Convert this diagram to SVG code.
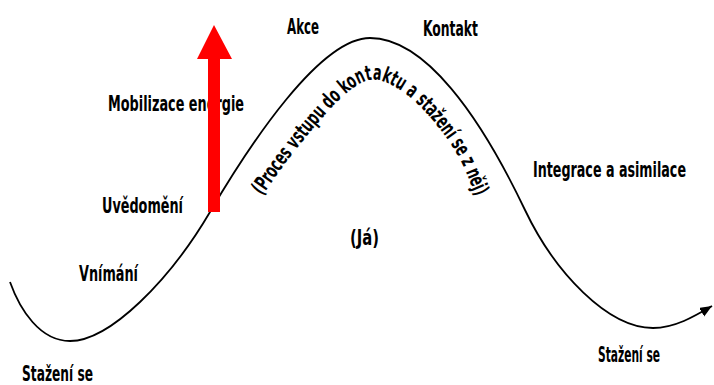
<svg xmlns="http://www.w3.org/2000/svg" width="714" height="385" viewBox="0 0 714 385">
  <style>
    .lbl { font-family: "Liberation Sans Narrow", "DejaVu Sans Condensed", "Liberation Sans", sans-serif; font-weight: bold; font-size: 21px; fill: #000; }
    .curve { fill: none; stroke: #000; stroke-width: 1.8; }
    .arc { font-family: "Liberation Sans Narrow", "DejaVu Sans Condensed", "Liberation Sans", sans-serif; font-weight: bold; font-size: 21px; fill: #000; }
  </style>
  <defs>
    <marker id="ah" markerUnits="userSpaceOnUse" markerWidth="14" markerHeight="12" refX="12" refY="5" orient="auto">
      <path d="M0,0 L12,5 L0,10 Z" fill="#000"/>
    </marker>
    <path id="arcPath" d="M262,196 C272.7,181.3 281.3,167.8 294,152 C306.7,136.2 325.3,113 338,101 C350.7,89 359.8,81.8 370,80 C380.2,78.2 390.2,84 400,90 C409.8,96 419.5,105.3 429,116 C438.5,126.7 449.2,140.7 457,154 C464.8,167.3 469.7,182 476,196"/>
  </defs>
  <rect width="714" height="385" fill="#fff"/>

  <g id="connectors">
    <path class="curve" marker-end="url(#ah)" d="M10,282 C20,310 40,341 70,341 C110,341 170,280 210,212 C250,144 320,38 370,38 C425,38 480,115.5 525,210 C555,273 608,328 653,328 C675,328 695,316 712,306"/>
  </g>

  <g id="label-akce"><text class="lbl" x="287" y="34" textLength="32" lengthAdjust="spacingAndGlyphs">Akce</text></g>
  <g id="label-kontakt"><text class="lbl" x="423" y="36" textLength="55" lengthAdjust="spacingAndGlyphs">Kontakt</text></g>
  <g id="label-mobilizace"><text class="lbl" x="108" y="111" textLength="136" lengthAdjust="spacingAndGlyphs">Mobilizace energie</text></g>
  <g id="label-uvedomeni"><text class="lbl" x="102" y="213" textLength="81" lengthAdjust="spacingAndGlyphs">Uvědomění</text></g>
  <g id="label-vnimani"><text class="lbl" x="79" y="281" textLength="59" lengthAdjust="spacingAndGlyphs">Vnímání</text></g>
  <g id="label-stazeni-left"><text class="lbl" x="22" y="381" textLength="71" lengthAdjust="spacingAndGlyphs">Stažení se</text></g>
  <g id="label-stazeni-right"><text class="lbl" x="598" y="362" textLength="62" lengthAdjust="spacingAndGlyphs">Stažení se</text></g>
  <g id="label-integrace"><text class="lbl" x="533" y="177" textLength="153" lengthAdjust="spacingAndGlyphs">Integrace a asimilace</text></g>
  <g id="label-ja"><text class="lbl" x="350" y="245" textLength="29" lengthAdjust="spacingAndGlyphs">(Já)</text></g>
  <g id="label-proces">
    <text class="arc"><textPath href="#arcPath" textLength="326" lengthAdjust="spacingAndGlyphs">(Proces vstupu do kontaktu a stažení se z něj)</textPath></text>
  </g>

  <g id="red-arrow">
    <polygon points="208,212 220,212 220,59 232,59 214,25 197,59 208,59" fill="#ff0000"/>
  </g>
</svg>
